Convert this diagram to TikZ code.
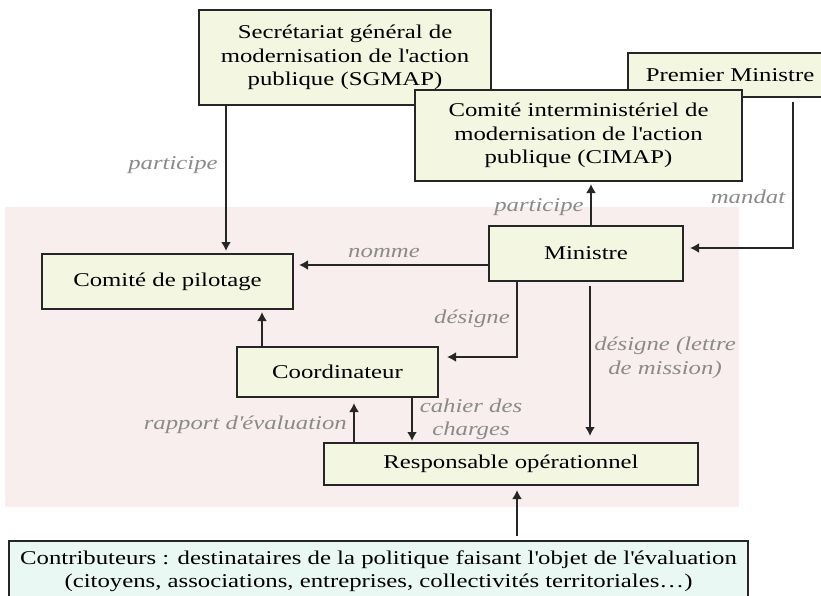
\documentclass[tikz,border=0pt]{standalone}
\usepackage{fontspec}
\setmainfont[FakeStretch=1.27]{Liberation Serif}
\usetikzlibrary{arrows.meta}
\newcommand{\ap}{\textquotesingle}
\definecolor{boxfill}{HTML}{F3F7E1}
\definecolor{pinkbg}{HTML}{F9EEEE}
\definecolor{cyanfill}{HTML}{E9F8F3}
\definecolor{lblgray}{HTML}{8A8A8A}
\tikzset{
  box/.style={draw=black!85, line width=2pt, fill=boxfill, align=center, inner sep=2pt,
    font=\fontsize{19.5}{23.5}\selectfont},
  arr/.style={line width=1.8pt, draw=black!85, -{Latex[length=9pt,width=10pt]}},
  lbl/.style={text=lblgray, font=\fontsize{19.5}{23.5}\selectfont\itshape, align=center, inner sep=0pt}
}
\begin{document}
\begin{tikzpicture}[x=1pt,y=-1pt]
\useasboundingbox (0,0) rectangle (821,596);
\fill[pinkbg] (5,207) rectangle (739,507);
% boxes
\node[box, minimum width=292pt, minimum height=95pt] (sgmap) at (345,57.5)
  {Secrétariat général de\\modernisation de l\ap action\\publique (SGMAP)};
\node[box, minimum width=204pt, minimum height=44pt] (pm) at (730,75) {Premier Ministre};
\node[box, minimum width=327pt, minimum height=91pt] (cimap) at (578.5,135.5)
  {Comité interministériel de\\modernisation de l\ap action\\publique (CIMAP)};
\node[box, minimum width=194pt, minimum height=55pt] (min) at (586,253.5) {Ministre};
\node[box, minimum width=251pt, minimum height=55pt] (copil) at (167.5,281.5) {Comité de pilotage};
\node[box, minimum width=201pt, minimum height=50pt] (coord) at (337.5,372) {Coordinateur};
\node[box, minimum width=374pt, minimum height=42pt] (resp) at (511,464) {Responsable opérationnel};
\node[box, fill=cyanfill, minimum width=739pt, minimum height=60pt] (contrib) at (378.5,571)
  {Contributeurs : destinataires de la politique faisant l\ap objet de l\ap évaluation\\(citoyens, associations, entreprises, collectivités territoriales\dots)};
% connectors
\coordinate (k1) at (793,248);
\coordinate (k2) at (517,357);
\draw[arr, shorten >=2pt] (sgmap.south -| 226,0) -- (copil.north -| 226,0);
\draw[arr, shorten >=2pt] (min.north -| 591,0) -- (cimap.south -| 591,0);
\draw[arr, shorten >=6pt] (pm.south -| k1) ++(0,4) -- (k1) -- (min.east |- k1);
\draw[arr, shorten >=5pt] (min.west |- 0,265) -- (copil.east |- 0,265);
\draw[arr, shorten >=8pt] (min.south -| k2) -- (k2) -- (coord.east |- k2);
\draw[arr, shorten >=6pt] (min.south -| 590,0) ++(0,4) -- (resp.north -| 590,0);
\draw[arr, shorten >=2pt] (coord.north -| 262,0) -- (copil.south -| 262,0);
\draw[arr, shorten >=1pt] (coord.south -| 412,0) -- (resp.north -| 412,0);
\draw[arr, shorten >=5pt] (resp.north -| 354,0) -- (coord.south -| 354,0);
\draw[arr, shorten >=4pt] (contrib.north -| 517,0) ++(0,-4) -- (resp.south -| 517,0);
% labels
\node[lbl] (l1) at (173,165) {participe};
\node[lbl] (l2) at (539,207) {participe};
\node[lbl] (l3) at (748,197) {mandat};
\node[lbl] (l4) at (384,253) {nomme};
\node[lbl] (l5) at (472,319) {désigne};
\node[lbl] (l6) at (665,358) {désigne (lettre\\de mission)};
\node[lbl] (l7) at (471,419.5) {cahier des\\charges};
\node[lbl, anchor=east] (l8) at (347,425) {rapport d\ap évaluation};
\end{tikzpicture}
\end{document}
